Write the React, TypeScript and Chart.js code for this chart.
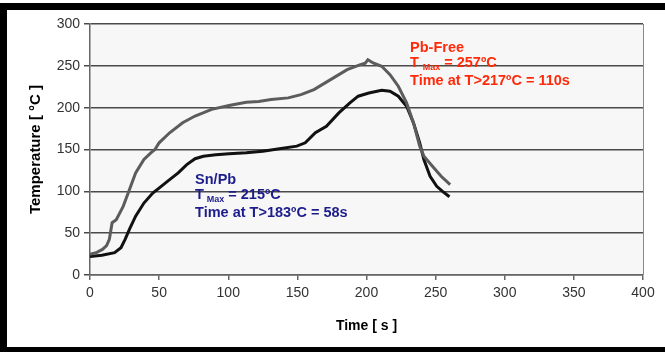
import React, { useEffect, useRef } from "react";
import { Chart, registerables } from "chart.js";

Chart.register(...registerables);

// Pb-Free reflow profile (time in s, temperature in °C)
const pbFreeTime = [0, 5, 9, 12, 14, 16, 19, 24, 28.5, 33, 39, 44, 47, 50, 57.6, 67, 76, 88, 100.5, 113, 122, 131, 143.4, 152.6, 162, 174, 186, 195.6, 199, 201, 204.8, 211, 217, 223, 229, 234, 238.5, 241.5, 247.7, 254, 260.5];
const pbFreeTemp = [24.7, 27, 30.6, 35, 42.6, 62.5, 66, 82, 102, 122, 138, 146, 150, 158, 170, 182, 190, 198, 202.5, 206.5, 207.5, 209.7, 211.7, 215.6, 221.6, 233.5, 245.5, 251.5, 253, 257.4, 253.4, 249.5, 239.5, 225.6, 205.7, 181.8, 154, 142, 130, 118, 108];

// Sn/Pb reflow profile
const snPbTime = [0, 8.6, 17.8, 22.4, 25.4, 28.5, 33, 39, 45.4, 51.5, 57.6, 63.8, 70, 76, 82, 91, 100.5, 113, 125, 137, 149.6, 155.7, 163, 171, 180, 188, 194, 201.7, 211, 217, 223, 229, 234, 238.5, 241.5, 246, 250.8, 255, 260];
const snPbTemp = [22, 23.5, 26.7, 32.6, 42.6, 54.5, 70.4, 86, 98, 106, 114, 122, 132, 139, 142, 143.6, 145, 146, 148, 150.8, 154, 158, 170, 177.8, 193.8, 205.7, 213.7, 217.6, 220.8, 219.6, 213.7, 201.7, 181.8, 158, 138, 118, 106, 100, 93.5];

const xTicks = [0, 50, 100, 150, 200, 250, 300, 350, 400];
const yTicks = [0, 50, 100, 150, 200, 250, 300];

const pbFreeLabel = "Pb-Free";
const pbFreeTMax = " = 257ºC";
const pbFreeTime217 = "Time at T>217ºC = 110s";
const snPbLabel = "Sn/Pb";
const snPbTMax = " = 215ºC";
const snPbTime183 = "Time at T>183ºC = 58s";

const FONT = "'Liberation Sans', Arial, sans-serif";

const toPoints = (xs: number[], ys: number[]) => xs.map((x, i) => ({ x, y: ys[i] }));

const decorPlugin = {
  id: "decor",
  beforeDraw(chart: any) {
    const { ctx, chartArea } = chart;
    ctx.save();
    ctx.fillStyle = "#f7f7f7";
    ctx.fillRect(chartArea.left, chartArea.top, chartArea.right - chartArea.left, chartArea.bottom - chartArea.top);
    ctx.restore();
  },
  beforeDatasetsDraw(chart: any) {
    const { ctx, chartArea } = chart;
    ctx.save();
    ctx.strokeStyle = "#8a8a8a";
    ctx.lineWidth = 1;
    ctx.beginPath();
    ctx.moveTo(chartArea.right + 0.5, chartArea.top);
    ctx.lineTo(chartArea.right + 0.5, chartArea.bottom);
    ctx.stroke();
    ctx.restore();
  },
  afterDraw(chart: any) {
    const { ctx } = chart;
    const xs = chart.scales.x;
    const ys = chart.scales.y;
    const drawBlock = (x0: number, y0: number, color: string, title: string, tmax: string, timeTxt: string, subGap: number) => {
      const px = xs.getPixelForValue(x0);
      const py = ys.getPixelForValue(y0);
      ctx.save();
      ctx.fillStyle = color;
      ctx.textBaseline = "alphabetic";
      ctx.textAlign = "left";
      const big = `bold 14.5px ${FONT}`;
      const small = `bold 9px ${FONT}`;
      ctx.font = big;
      ctx.fillText(title, px, py);
      const y2 = py + 15.5;
      ctx.fillText("T", px, y2);
      let cx = px + ctx.measureText("T").width + subGap;
      ctx.font = small;
      ctx.fillText("Max", cx, y2 + 3);
      cx += ctx.measureText("Max").width;
      ctx.font = big;
      ctx.fillText(tmax, cx, y2);
      ctx.fillText(timeTxt, px, py + 33.5);
      ctx.restore();
    };
    drawBlock(231.5, 267, "#ff2a0a", pbFreeLabel, pbFreeTMax, pbFreeTime217, 3.8);
    drawBlock(76, 108.8, "#1c1c8c", snPbLabel, snPbTMax, snPbTime183, 2.8);

    // black frame
    ctx.save();
    ctx.fillStyle = "#000";
    ctx.fillRect(0, 3, 665, 7);
    ctx.fillRect(0, 3, 7, 349);
    ctx.fillRect(0, 347, 665, 5);
    ctx.restore();
  },
};

export default function App() {
  const ref = useRef<HTMLCanvasElement | null>(null);

  useEffect(() => {
    document.body.style.margin = "0";
    const canvas = ref.current;
    if (!canvas) return;
    const chart = new Chart(canvas, {
      type: "line",
      data: {
        datasets: [
          {
            label: "Pb-Free",
            data: toPoints(pbFreeTime, pbFreeTemp),
            borderColor: "#5c5c5c",
            borderWidth: 3,
            pointRadius: 0,
            tension: 0,
            fill: false,
          },
          {
            label: "Sn/Pb",
            data: toPoints(snPbTime, snPbTemp),
            borderColor: "#111111",
            borderWidth: 3,
            pointRadius: 0,
            tension: 0,
            fill: false,
          },
        ],
      },
      options: {
        animation: false,
        responsive: false,
        devicePixelRatio: 1,
        layout: { padding: { top: 24, right: 22, left: 0, bottom: 0 } },
        plugins: {
          legend: { display: false },
          tooltip: { enabled: false },
        },
        scales: {
          x: {
            type: "linear",
            min: 0,
            max: 400,
            afterFit: (s: any) => {
              s.height = 77;
            },
            afterBuildTicks: (s: any) => {
              s.ticks = xTicks.map((v) => ({ value: v }));
            },
            ticks: {
              color: "#333",
              font: { family: FONT, size: 14 },
              padding: 5,
              maxRotation: 0,
            },
            grid: {
              drawOnChartArea: false,
              drawTicks: true,
              tickLength: 5,
              color: "#666",
              lineWidth: 1.5,
            },
            border: { display: true, color: "#666", width: 1.5 },
            title: {
              display: true,
              text: "Time [ s ]",
              color: "#000",
              font: { family: FONT, size: 14, weight: "bold" },
              padding: { top: 0, bottom: 17 },
            },
          },
          y: {
            type: "linear",
            min: 0,
            max: 300,
            afterFit: (s: any) => {
              s.width = 90;
            },
            afterBuildTicks: (s: any) => {
              s.ticks = yTicks.map((v) => ({ value: v }));
            },
            ticks: {
              color: "#333",
              font: { family: FONT, size: 14 },
              padding: 4,
            },
            grid: {
              drawTicks: true,
              tickLength: 6,
              color: "#4a4a4a",
              lineWidth: 1.5,
            },
            border: { display: true, color: "#666", width: 1.5 },
            title: {
              display: true,
              text: "Temperature [ °C ]",
              color: "#000",
              font: { family: FONT, size: 15, weight: "bold" },
              padding: { top: 27, bottom: 0 },
            },
          },
        },
      },
      plugins: [decorPlugin],
    });
    return () => chart.destroy();
  }, []);

  return (
    <div style={{ width: 665, height: 352, background: "#fff" }}>
      <canvas ref={ref} width={665} height={352} style={{ display: "block" }} />
    </div>
  );
}
